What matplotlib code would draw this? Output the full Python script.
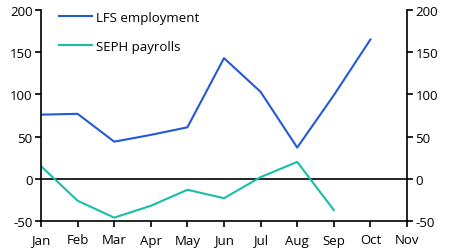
import matplotlib
matplotlib.use("Agg")
import matplotlib.pyplot as plt

months = ["Jan", "Feb", "Mar", "Apr", "May", "Jun", "Jul", "Aug", "Sep", "Oct", "Nov"]
lfs_employment = [76, 77, 44, 52, 61, 143, 103, 37, 99, 165]
seph_payrolls = [15, -26, -46, -32, -13, -23, 2, 20, -37]
y_ticks = [-50, 0, 50, 100, 150, 200]

plt.rcParams['font.family'] = ['Open Sans', 'DejaVu Sans']
plt.rcParams['font.size'] = 9.5

fig = plt.figure(figsize=(4.51, 2.53), dpi=100)
ax = fig.add_axes([41/451, 1 - 222/253, (407-41)/451, (222-11)/253])

blue = "#2458d4"
teal = "#17bfa8"
ax.plot(range(len(lfs_employment)), lfs_employment, color=blue, lw=1.5, label="LFS employment")
ax.plot(range(len(seph_payrolls)), seph_payrolls, color=teal, lw=1.5, label="SEPH payrolls")
ax.axhline(0, color="black", lw=1.2, zorder=1)

ax.set_xlim(0, len(months) - 1)
ax.set_ylim(-50, 200)
ax.set_xticks(range(len(months)))
ax.set_xticklabels(months)
ax.set_yticks(y_ticks)
ax.set_yticklabels([str(t) for t in y_ticks])

ax2 = ax.twinx()
ax2.set_ylim(-50, 200)
ax2.set_yticks(y_ticks)
ax2.set_yticklabels([str(t) for t in y_ticks])

for a in (ax, ax2):
    a.spines['top'].set_visible(False)
    for s in ('left', 'right', 'bottom'):
        a.spines[s].set_linewidth(1.2)
    a.tick_params(direction='out', length=4, width=1.2, colors='black', labelsize=9.5, pad=2)
ax.spines['right'].set_visible(False)
ax2.spines['left'].set_visible(False)
ax2.spines['bottom'].set_visible(False)
ax.tick_params(axis='x', pad=5)

ax.legend(loc='upper left', frameon=False, handlelength=2.5, handletextpad=0.3,
          labelspacing=1.2, bbox_to_anchor=(0.035, 1.02), borderaxespad=0)

fig.savefig("out.png", dpi=100)
